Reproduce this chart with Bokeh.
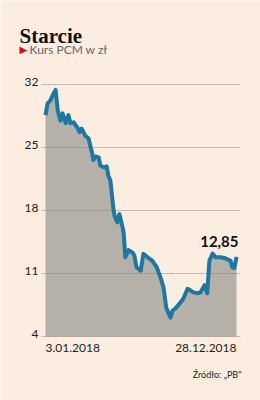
from datetime import datetime, timedelta
from bokeh.plotting import figure
from bokeh.models import Range1d, Label, ColumnDataSource
from bokeh.core.properties import value
from bokeh.embed import file_html
from bokeh.resources import INLINE

title = "Starcie"
subtitle = "Kurs PCM w zł"
source_note = "Źródło: „PB\""
last_label = "12,85"
x_labels = ["3.01.2018", "28.12.2018"]
y_ticks = [4, 11, 18, 25, 32]

dates = [
    "2018-01-03", "2018-01-07", "2018-01-12", "2018-01-18", "2018-01-22", "2018-01-26",
    "2018-01-31", "2018-02-04", "2018-02-10", "2018-02-15", "2018-02-19", "2018-02-25",
    "2018-03-04", "2018-03-08", "2018-03-12", "2018-03-19", "2018-03-25", "2018-03-29",
    "2018-04-01", "2018-04-03", "2018-04-07", "2018-04-13", "2018-04-16", "2018-04-22",
    "2018-04-28", "2018-05-01", "2018-05-05", "2018-05-09", "2018-05-11", "2018-05-13",
    "2018-05-18", "2018-05-22", "2018-05-28", "2018-05-30", "2018-06-02", "2018-06-08",
    "2018-06-16", "2018-06-19", "2018-06-23", "2018-07-01", "2018-07-06", "2018-07-14",
    "2018-07-23", "2018-07-31", "2018-08-07", "2018-08-13", "2018-08-18", "2018-08-26",
    "2018-08-30", "2018-09-04", "2018-09-14", "2018-09-19", "2018-09-27", "2018-10-03",
    "2018-10-08", "2018-10-16", "2018-10-21", "2018-10-29", "2018-11-03", "2018-11-07",
    "2018-11-13", "2018-11-19", "2018-11-28", "2018-12-07", "2018-12-17", "2018-12-20",
    "2018-12-24", "2018-12-28",
]
prices = [
    28.6, 29.9, 30.2, 31.0, 31.4, 29.1,
    28.0, 28.8, 27.7, 28.6, 27.7, 27.8,
    27.2, 26.7, 27.1, 26.3, 26.0, 25.0,
    24.3, 23.6, 24.0, 23.9, 23.0, 22.8,
    22.9, 21.9, 21.3, 19.1, 18.0, 17.4,
    16.7, 17.6, 16.1, 15.5, 12.8, 13.6,
    13.3, 13.0, 11.7, 11.3, 13.2, 12.8,
    12.4, 11.7, 10.6, 9.4, 7.2, 6.1,
    6.9, 7.1, 7.8, 8.2, 9.3, 9.1,
    8.9, 8.8, 8.9, 9.7, 8.8, 12.4,
    13.2, 12.8, 12.8, 12.7, 12.4, 11.7,
    11.6, 12.85,
]

BG = "#FBEDE0"
x = [datetime.strptime(d, "%Y-%m-%d") for d in dates]
src = ColumnDataSource(dict(x=x, y=prices, base=[y_ticks[0]] * len(prices)))

t0 = x[0]
DPP = (x[-1] - x[0]).days / 191.0  # days per pixel


def xd(px):
    return (t0 + timedelta(days=(px - 45) * DPP)).timestamp() * 1000.0


def yd(py):
    return 32 - (py - 84) / 9.0


# frame covers the whole canvas; layout positions come from the helpers above
p = figure(width=260, height=400, output_backend="svg", toolbar_location=None,
           x_axis_type="datetime",
           x_range=Range1d(xd(0), xd(260)), y_range=Range1d(yd(400), yd(0)),
           min_border=0)
p.background_fill_color = BG
p.border_fill_color = BG
p.outline_line_color = None
p.axis.visible = False
p.grid.visible = False

p.varea(x="x", y1="base", y2="y", source=src, fill_color="#B5B1A8")

# gridlines, over the area
grid_src = ColumnDataSource(dict(y=y_ticks, x0=[xd(41)] * len(y_ticks),
                                 x1=[xd(240)] * len(y_ticks),
                                 lx=[xd(38)] * len(y_ticks),
                                 lab=[str(t) for t in y_ticks]))
p.segment(x0="x0", y0="y", x1="x1", y1="y", source=grid_src,
          line_color="#8A7B6E", line_alpha=0.45, line_width=1)

p.line(x="x", y="y", source=src, line_color="#1B78A4", line_width=4,
       line_join="round")

p.text(x="lx", y="y", text="lab", source=grid_src, text_font=value("Lato"),
       text_font_size="12px", text_color="#222222", text_align="right",
       text_baseline="bottom", y_offset=1)

p.add_layout(Label(x=xd(19), y=yd(35), text=title, text_font="Liberation Serif",
                   text_font_style="bold", text_font_size="21px", text_color="#111111",
                   text_baseline="alphabetic"))
p.add_layout(Label(x=xd(19), y=yd(49), text="▶", text_font="DejaVu Sans",
                   text_font_size="10px", text_color="#E30613", text_baseline="middle"))
p.add_layout(Label(x=xd(29), y=yd(49), text=subtitle, text_font="Lato",
                   text_font_size="12px", text_color="#666666", text_baseline="middle"))
p.add_layout(Label(x=xd(45), y=yd(347), text=x_labels[0], text_font="Lato",
                   text_font_size="12px", text_color="#222222", text_baseline="middle",
                   text_align="left"))
p.add_layout(Label(x=xd(236), y=yd(347), text=x_labels[1], text_font="Lato",
                   text_font_size="12px", text_color="#222222", text_baseline="middle",
                   text_align="right"))
p.add_layout(Label(x=xd(238), y=yd(241), text=last_label, text_font="Lato",
                   text_font_style="bold", text_font_size="15px", text_color="#111111",
                   text_baseline="middle", text_align="right"))
p.add_layout(Label(x=xd(241), y=yd(374), text=source_note, text_font="Lato",
                   text_font_size="9px", text_color="#222222", text_baseline="middle",
                   text_align="right"))

open("out.html", "w").write(file_html(p, INLINE))
